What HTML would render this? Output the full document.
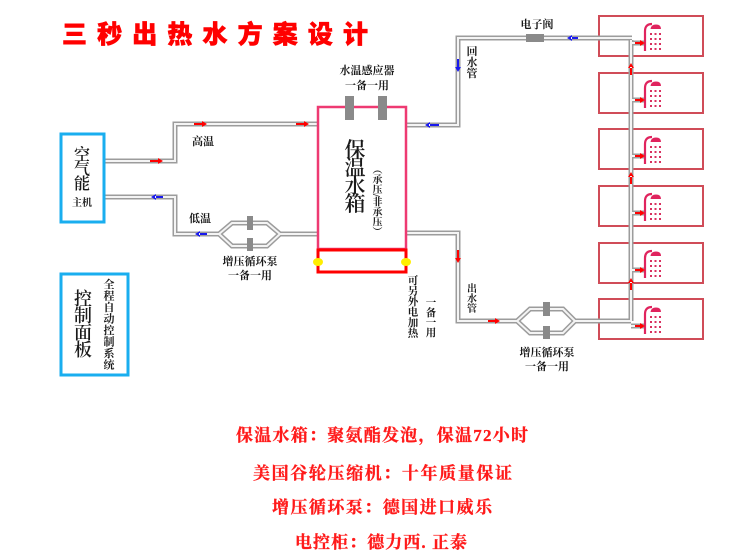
<!DOCTYPE html>
<html><head><meta charset="utf-8">
<style>
html,body{margin:0;padding:0;background:#fff;}
body{width:752px;height:557px;position:relative;overflow:hidden;}
svg{position:absolute;left:0;top:0;}
.vt{position:absolute;writing-mode:vertical-rl;font-family:"Liberation Serif","Noto Serif CJK SC",serif;font-weight:bold;color:#222;white-space:nowrap;}
</style></head><body>
<svg width="752" height="557" viewBox="0 0 752 557" xmlns="http://www.w3.org/2000/svg">
<defs>
<path id="p1" d="M104,161 H175 V124 H318"/>
<path id="p2" d="M104,197 H175 V234 H219"/>
<path id="p3" d="M219,234 L232,223 H267 L280,234 L267,246 H232 Z"/>
<path id="p4" d="M280,234 H318"/>
<path id="p5" d="M406,125 H458 V38 H632"/>
<path id="p6" d="M631,40 V321"/>
<path id="p7" d="M406,233 H458 V321 H517"/>
<path id="p8" d="M517,321 L530,309 H563 L575,321 L563,333 H530 Z"/>
<path id="p9" d="M575,321 H631"/>
<path id="st" d="M631,43 H645 M631,100 H645 M631,156 H645 M631,213 H645 M631,270 H645 M631,326 H645"/>
<g id="sh">
  <path d="M645,35 V15 Q645,8 652,8" fill="none" stroke="#e0245e" stroke-width="2.2"/>
  <path d="M650.5,13 Q651,8.5 656,8.5 Q661,8.5 661,13 Z" fill="#e0245e"/>
  <g fill="#d8305f">
    <rect x="650" y="17" width="2" height="2"/><rect x="654.5" y="17" width="2" height="2"/><rect x="659" y="17" width="2" height="2"/>
    <rect x="650" y="22" width="2" height="2"/><rect x="654.5" y="22" width="2" height="2"/><rect x="659" y="22" width="2" height="2"/>
    <rect x="650" y="27" width="2" height="2"/><rect x="654.5" y="27" width="2" height="2"/><rect x="659" y="27" width="2" height="2"/>
    <rect x="650" y="32" width="2" height="2"/><rect x="654.5" y="32" width="2" height="2"/><rect x="659" y="32" width="2" height="2"/>
  </g>
</g>
</defs>

<text x="62" y="43" font-family="'Noto Sans CJK SC',sans-serif" font-weight="900" font-size="25" fill="#ff0000" stroke="#ff0000" stroke-width="0.6" textLength="306" lengthAdjust="spacing">三秒出热水方案设计</text>

<g fill="none" stroke="#d04c58" stroke-width="2">
  <rect x="599" y="16" width="104" height="40"/>
  <rect x="599" y="73" width="104" height="40"/>
  <rect x="599" y="129" width="104" height="40"/>
  <rect x="599" y="186" width="104" height="40"/>
  <rect x="599" y="243" width="104" height="40"/>
  <rect x="599" y="299" width="104" height="40"/>
</g>

<g fill="none" stroke-linejoin="miter">
  <g stroke="#9c9c9c" stroke-width="5">
    <use href="#p1"/><use href="#p2"/><use href="#p3"/><use href="#p4"/><use href="#p5"/><use href="#p6"/><use href="#p7"/><use href="#p8"/><use href="#p9"/><use href="#st"/>
  </g>
  <g stroke="#f4f4f4" stroke-width="2">
    <use href="#p1"/><use href="#p2"/><use href="#p3"/><use href="#p4"/><use href="#p5"/><use href="#p6"/><use href="#p7"/><use href="#p8"/><use href="#p9"/><use href="#st"/>
  </g>
</g>

<rect x="318" y="107" width="88" height="142" fill="none" stroke="#ee3a72" stroke-width="2.5"/>
<rect x="318" y="250" width="88" height="22" fill="none" stroke="#ff0000" stroke-width="3"/>
<ellipse cx="318" cy="262" rx="5" ry="4" fill="#ffee00"/>
<ellipse cx="406" cy="262" rx="5" ry="4" fill="#ffee00"/>

<g fill="#8a8a8a">
  <rect x="345" y="96" width="9" height="24"/>
  <rect x="378" y="96" width="9" height="24"/>
  <rect x="526" y="34" width="18" height="8"/>
  <rect x="247" y="216" width="6" height="14"/>
  <rect x="247" y="238" width="6" height="13"/>
  <rect x="543" y="302" width="7" height="14"/>
  <rect x="543" y="326" width="7" height="13"/>
</g>

<rect x="61" y="134" width="43" height="88" fill="none" stroke="#19aeef" stroke-width="3"/>
<rect x="61" y="274" width="67" height="101" fill="none" stroke="#19aeef" stroke-width="3"/>

<use href="#sh" y="16"/><use href="#sh" y="73"/><use href="#sh" y="129"/>
<use href="#sh" y="186"/><use href="#sh" y="243"/><use href="#sh" y="299"/>

<g fill="#ff0000" stroke="none">
  <path d="M150,160 H159 V162 H150 Z M158,158 L163,161 L158,164 Z"/>
  <path d="M194,123 H203 V125 H194 Z M202,121 L207,124 L202,127 Z"/>
  <path d="M296,123 H305 V125 H296 Z M304,121 L309,124 L304,127 Z"/>
  <path d="M488,320 H496 V322 H488 Z M495,318 L500,321 L495,324 Z"/>
  <path d="M635,42 H641 V44 H635 Z M640,40 L645,43 L640,46 Z"/>
  <path d="M635,99 H641 V101 H635 Z M640,97 L645,100 L640,103 Z"/>
  <path d="M635,155 H641 V157 H635 Z M640,153 L645,156 L640,159 Z"/>
  <path d="M635,212 H641 V214 H635 Z M640,210 L645,213 L640,216 Z"/>
  <path d="M635,269 H641 V271 H635 Z M640,267 L645,270 L640,273 Z"/>
  <path d="M635,325 H641 V327 H635 Z M640,323 L645,326 L640,329 Z"/>
  <path d="M457,250 V259 H459 V250 Z M455,258 L458,263 L461,258 Z"/>
  <path d="M630,67 V75 H632 V67 Z M628,68 L631,63 L634,68 Z"/>
  <path d="M630,176 V184 H632 V176 Z M628,177 L631,172 L634,177 Z"/>
  <path d="M630,282 V290 H632 V282 Z M628,283 L631,278 L634,283 Z"/>
</g>
<g fill="#1a1aee" stroke="none">
  <path d="M155,196 H163 V198 H155 Z M156,194 L151,197 L156,200 Z"/>
  <path d="M199,233 H207 V235 H199 Z M200,231 L195,234 L200,237 Z"/>
  <path d="M429,124 H439 V126 H429 Z M430,122 L425,125 L430,128 Z"/>
  <path d="M571,37 H578 V39 H571 Z M572,35 L567,38 L572,41 Z"/>
  <path d="M457,59 V68 H459 V59 Z M455,67 L458,72 L461,67 Z"/>
</g>

<g font-family="'Liberation Serif','Noto Serif CJK SC',serif" font-weight="bold" font-size="11" fill="#1a1a1a" text-anchor="middle">
  <text x="367" y="74">水温感应器</text>
  <text x="367" y="89">一备一用</text>
  <text x="537" y="28">电子阀</text>
  <text x="203" y="145">高温</text>
  <text x="200" y="222">低温</text>
  <text x="250" y="265">增压循环泵</text>
  <text x="250" y="279">一备一用</text>
  <text x="547" y="356">增压循环泵</text>
  <text x="547" y="370">一备一用</text>
  <text x="82" y="206" font-size="10">主机</text>
  <text x="472" y="55">回</text><text x="472" y="66">水</text><text x="472" y="77">管</text>
  <text x="472" y="292" font-size="10">出</text><text x="472" y="302" font-size="10">水</text><text x="472" y="312" font-size="10">管</text>
  <g font-size="10.5">
    <text x="413" y="284">可</text><text x="413" y="294.5">另</text><text x="413" y="305">外</text><text x="413" y="315.5">电</text><text x="413" y="326">加</text><text x="413" y="336.5">热</text>
    <text x="431" y="306">一</text><text x="431" y="316">备</text><text x="431" y="326">一</text><text x="431" y="336">用</text>
  </g>
  <g font-size="11">
    <text x="109" y="288">全</text><text x="109" y="299.5">程</text><text x="109" y="311">自</text><text x="109" y="322.5">动</text><text x="109" y="334">控</text><text x="109" y="345.5">制</text><text x="109" y="357">系</text><text x="109" y="368.5">统</text>
  </g>
</g>
<g font-family="'Liberation Serif','Noto Serif CJK SC',serif" font-weight="600" fill="#1a1a1a" text-anchor="middle">
  <g font-size="21">
    <text x="355" y="157">保</text><text x="355" y="175">温</text><text x="355" y="193">水</text><text x="355" y="211">箱</text>
  </g>
  <g font-size="16">
    <text x="82" y="160">空</text><text x="82" y="174.5">气</text><text x="82" y="189">能</text>
  </g>
  <g font-size="18">
    <text x="83" y="305">控</text><text x="83" y="322">制</text><text x="83" y="339">面</text><text x="83" y="356">板</text>
  </g>
</g>

<g font-family="'Liberation Serif','Noto Serif CJK SC',serif" font-weight="bold" font-size="17" fill="#ff1a1a" stroke="#ff1a1a" stroke-width="0.3">
  <text x="236" y="441" textLength="292" lengthAdjust="spacing">保温水箱：聚氨酯发泡，保温72小时</text>
  <text x="253" y="479" textLength="259" lengthAdjust="spacing">美国谷轮压缩机：十年质量保证</text>
  <text x="272" y="513" textLength="220" lengthAdjust="spacing">增压循环泵：德国进口威乐</text>
  <text x="295" y="548" textLength="172" lengthAdjust="spacing">电控柜：德力西. 正泰</text>
</g>
</svg>
<div class="vt" style="left:370px;top:164px;font-size:10px;line-height:10px;">（承压/非承压）</div>
</body></html>
